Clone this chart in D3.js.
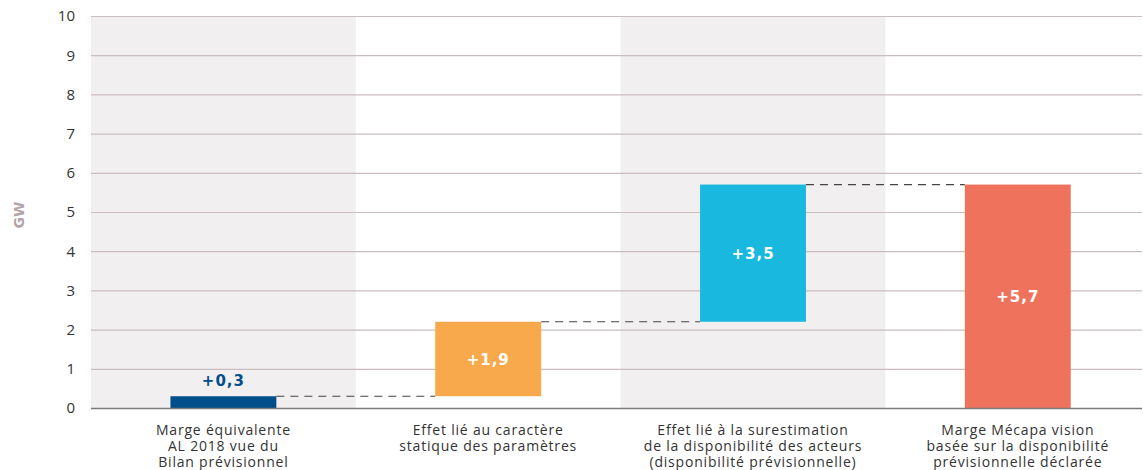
<!DOCTYPE html>
<html>
<head>
<meta charset="utf-8">
<script src="https://cdn.jsdelivr.net/npm/d3@7"></script>
<style>
  body { margin: 0; background: #fff; }
  svg { display: block; font-family: "Open Sans", sans-serif; }
</style>
</head>
<body>
<div id="chart"></div>
<script>
// data
const categories = [
    ["Marge équivalente", "AL 2018 vue du", "Bilan prévisionnel"],
    ["Effet lié au caractère", "statique des paramètres"],
    ["Effet lié à la surestimation", "de la disponibilité des acteurs", "(disponibilité prévisionnelle)"],
    ["Marge Mécapa vision", "basée sur la disponibilité", "prévisionnelle déclarée"]
];
const starts = [0, 0.3, 2.2, 0];
const ends = [0.3, 2.2, 5.7, 5.7];
const valueLabels = ["+0,3", "+1,9", "+3,5", "+5,7"];
const barColors = ["#004f8a", "#f7a94b", "#19b8df", "#ef735c"];
const yTicks = [0, 1, 2, 3, 4, 5, 6, 7, 8, 9, 10];

const width = 1143, height = 470;
const margin = { top: 16, right: 1, bottom: 62, left: 91 };

const svg = d3.select("#chart").append("svg")
    .attr("width", width)
    .attr("height", height);

// bands run a little past the right edge of the picture
const x = d3.scaleBand()
    .domain(d3.range(categories.length))
    .range([margin.left, margin.left + 4 * 264.8]);

const y = d3.scaleLinear()
    .domain([0, 10])
    .range([height - margin.bottom, margin.top]);

const barW = x.bandwidth() * 0.4;
const barX = i => x(i) + (x.bandwidth() - barW) / 2;

// alternating background bands
svg.append("g").selectAll("rect")
    .data(d3.range(categories.length).filter(i => i % 2 === 0))
    .join("rect")
    .attr("x", i => x(i))
    .attr("y", y(10))
    .attr("width", x.bandwidth())
    .attr("height", y(0) - y(10))
    .attr("fill", "#f2eff0");

// gridlines
svg.append("g").selectAll("line")
    .data(yTicks.filter(t => t > 0))
    .join("line")
    .attr("x1", margin.left)
    .attr("x2", width - margin.right)
    .attr("y1", d => y(d) + 0.5)
    .attr("y2", d => y(d) + 0.5)
    .attr("stroke", "#cbbcc0")
    .attr("stroke-width", 1.2);

// y axis labels
const yAxis = d3.axisLeft(y).tickValues(yTicks).tickSize(0).tickPadding(16);
svg.append("g")
    .attr("transform", `translate(${margin.left},0)`)
    .call(yAxis)
    .call(g => g.select(".domain").remove())
    .call(g => g.selectAll("text")
        .attr("fill", "#333")
        .attr("font-size", 15)
        .attr("font-family", "'Open Sans', sans-serif"));

// axis title
svg.append("text")
    .attr("transform", `translate(24,215) rotate(-90)`)
    .attr("text-anchor", "middle")
    .attr("fill", "#b3a4a9")
    .attr("font-family", "'DejaVu Sans', sans-serif")
    .attr("font-weight", 700)
    .attr("font-size", 14)
    .text("GW");

// connectors
svg.append("g").selectAll("line")
    .data(d3.range(categories.length - 1))
    .join("line")
    .attr("x1", i => barX(i) + barW)
    .attr("x2", i => barX(i + 1))
    .attr("y1", i => y(ends[i]))
    .attr("y2", i => y(ends[i]))
    .attr("stroke", "#444")
    .attr("stroke-width", 1.2)
    .attr("stroke-dasharray", "8,6");

// bars
svg.append("g").selectAll("rect")
    .data(d3.range(categories.length))
    .join("rect")
    .attr("x", i => barX(i))
    .attr("y", i => y(ends[i]))
    .attr("width", barW)
    .attr("height", i => y(starts[i]) - y(ends[i]))
    .attr("fill", i => barColors[i]);

// baseline
svg.append("line")
    .attr("x1", margin.left)
    .attr("x2", width - margin.right)
    .attr("y1", y(0) + 0.5)
    .attr("y2", y(0) + 0.5)
    .attr("stroke", "#7a7a7a")
    .attr("stroke-width", 1.5);

// value labels
svg.append("g").selectAll("text")
    .data(d3.range(categories.length))
    .join("text")
    .attr("x", i => barX(i) + barW / 2)
    .attr("y", i => {
        const h = y(starts[i]) - y(ends[i]);
        return h < 30 ? y(ends[i]) - 10 : (y(starts[i]) + y(ends[i])) / 2 + 6;
    })
    .attr("text-anchor", "middle")
    .attr("font-family", "'DejaVu Sans', Verdana, sans-serif")
    .attr("font-weight", 700)
    .attr("font-size", 15)
    .attr("letter-spacing", 1)
    .attr("fill", i => (y(starts[i]) - y(ends[i]) < 30 ? barColors[i] : "#fff"))
    .text(i => valueLabels[i]);

// category labels
const cat = svg.append("g").selectAll("text")
    .data(d3.range(categories.length))
    .join("text")
    .attr("x", i => barX(i) + barW / 2)
    .attr("y", 435)
    .attr("text-anchor", "middle")
    .attr("fill", "#333")
    .attr("font-size", 14)
    .attr("letter-spacing", 0.8);

cat.selectAll("tspan")
    .data(i => categories[i])
    .join("tspan")
    .attr("x", function() { return this.parentNode.getAttribute("x"); })
    .attr("dy", (d, j) => (j === 0 ? 0 : 16))
    .text(d => d);
</script>
</body>
</html>
